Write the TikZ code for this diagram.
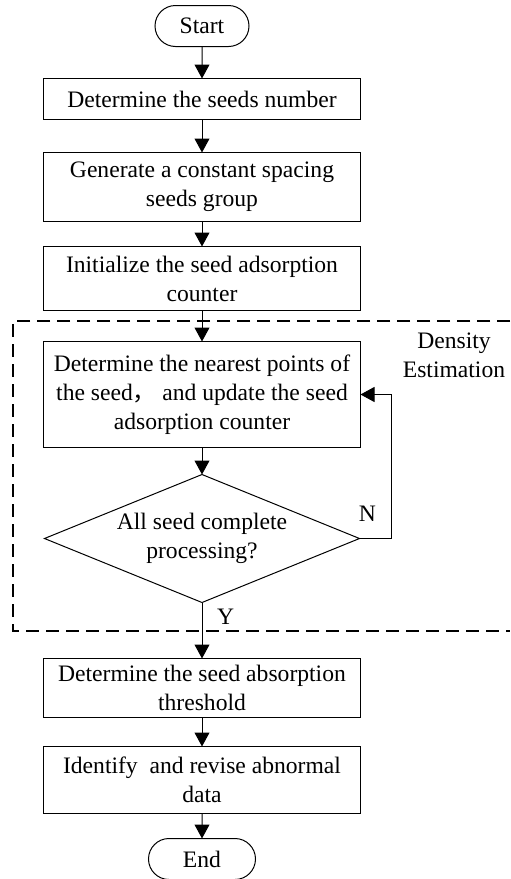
\documentclass[tikz,border=0pt]{standalone}
\usepackage{fontspec}
\setmainfont{Liberation Serif}
\newfontfamily\cjk{Noto Sans CJK SC}
\usetikzlibrary{positioning,arrows.meta,shapes.geometric,shapes.misc}

\begin{document}
\begin{tikzpicture}[
        node distance=15pt,
        line width=0.5pt,
        every node/.style={font=\fontsize{11.8pt}{14.5pt}\selectfont},
        box/.style={rectangle,draw,align=center,minimum width=158.5pt,inner sep=2pt,outer sep=0pt},
        startstop/.style={rounded rectangle,draw,minimum height=20.5pt,inner sep=2pt,outer sep=0pt},
        decision/.style={diamond,draw,align=center,aspect=2.46,inner sep=0pt,outer sep=0pt,minimum width=157.5pt,minimum height=64pt},
        dashbox/.style={dash pattern=on 6.5pt off 3.5pt,line width=0.8pt},
        arrow/.style={-{Triangle[length=7pt,width=7.5pt]}}]
        \useasboundingbox (0,0) rectangle (255pt,-439.5pt);
        \node[startstop,minimum width=51pt] (start) at (101pt,-13pt) {Start};
        \node[box,minimum height=20.5pt,below=16pt of start] (seeds) {Determine the seeds number};
        \node[box,minimum height=34.5pt,below=16.5pt of seeds] (group) {Generate a constant spacing\\seeds group};
        \node[box,minimum height=32pt,below=12.5pt of group] (init) {Initialize the seed adsorption\\counter};
        \node[box,minimum height=53pt,below=15.5pt of init] (update) {Determine the nearest points of\\the seed{\cjk ，} and update the seed\\adsorption counter};
        \node[decision,below=13.5pt of update] (check) {All seed complete\\processing?};
        \node[box,minimum height=29.5pt,below=28pt of check] (thresh) {Determine the seed absorption\\threshold};
        \node[box,minimum height=33.5pt,below=14.5pt of thresh] (revise) {Identify~ and revise abnormal\\data};
        \node[startstop,minimum width=57.5pt,below=12.5pt of revise] (end) {End};
        % density estimation group
        \draw[dashbox] (255pt,-160.5pt) -- (6.5pt,-160.5pt) -- (6.5pt,-315.5pt) -- (255pt,-315.5pt);
        \node[align=center] (dlabel) at (227pt,-177.5pt) {Density\\Estimation};
        \draw[arrow] (start) -- (seeds);
        \draw[arrow] (seeds) -- (group);
        \draw[arrow] (group) -- (init);
        \draw[arrow] (init) -- (update);
        \draw[arrow] (update) -- (check);
        \draw[arrow] (check.east) -- node[pos=0.25,above=5pt]{N} ++(16pt,0) |- (update.east);
        \draw[arrow] (check) -- node[pos=0.25,right,xshift=4pt]{Y} (thresh);
        \draw[arrow] (thresh) -- (revise);
        \draw[arrow] (revise) -- (end);
    \end{tikzpicture}
\end{document}
